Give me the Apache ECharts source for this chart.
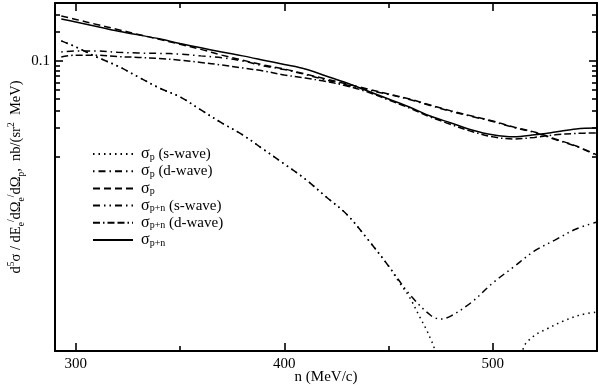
<!DOCTYPE html>
<html><head><meta charset="utf-8">
<script src="https://cdn.jsdelivr.net/npm/echarts@6/dist/echarts.min.js"></script>
<style>html,body{margin:0;padding:0;background:#fff}#c{width:599px;height:388px}</style>
</head><body><div id="c"></div>
<script>
// ---- data (momentum n in MeV/c, cross sections in nb/(sr^2 MeV)) ----
const momentum = [293,300,310,320,330,340,350,360,370,380,390,400,410,420,430,440,450,460,470,480,490,500,510,520,530,540,550];
const sigmaPN  = [0.274,0.255,0.229,0.205,0.187,0.170,0.152,0.137,0.124,0.113,0.102,0.0919,0.0825,0.0698,0.0590,0.0487,0.0402,0.0332,0.0267,0.0226,0.0191,0.0170,0.0162,0.0170,0.0182,0.0196,0.0200];
const sigmaP   = [0.294,0.271,0.240,0.213,0.189,0.168,0.149,0.132,0.115,0.102,0.0908,0.0825,0.0732,0.0649,0.0576,0.0511,0.0453,0.0402,0.0348,0.0302,0.0267,0.0237,0.0205,0.0182,0.0154,0.0130,0.0105];
const sigmaPd  = [0.124,0.127,0.127,0.123,0.121,0.120,0.118,0.113,0.108,0.100,0.0887,0.0815,0.0723,0.0634,0.0562,0.0499,0.0448,0.0397,0.0344,0.0298,0.0264,0.0234,0.0203,0.0180,0.0152,0.0129,0.0104];
const sigmaPNd = [0.110,0.115,0.115,0.111,0.109,0.106,0.102,0.0965,0.0908,0.0846,0.0787,0.0715,0.0665,0.0612,0.0549,0.0475,0.0392,0.0324,0.0261,0.0218,0.0184,0.0162,0.0154,0.0160,0.0170,0.0176,0.0178];

const momentumPNs = [293,300,310,320,330,340,350,360,370,380,390,400,410,420,430,440,450,460,470,475,480,490,500,510,520,530,540,550];
const sigmaPNs    = [0.162,0.140,0.110,0.0887,0.0681,0.0523,0.0422,0.0309,0.0226,0.0170,0.0120,0.00845,0.00590,0.00385,0.00252,0.00139,0.000732,0.000374,0.000226,0.000205,0.000221,0.000309,0.000487,0.000715,0.00105,0.00137,0.00178,0.00210];

const momentumPs = [293,300,310,320,330,340,350,360,370,380,390,400,410,420,430,440,450,455,460,465,468,470,472,474,513,514.5,519,526,534,542,550];
const sigmaPs    = [0.162,0.140,0.110,0.0887,0.0681,0.0523,0.0422,0.0309,0.0226,0.0170,0.0120,0.00845,0.00590,0.00385,0.00252,0.00139,0.000732,0.000499,0.000348,0.000215,0.000162,0.000130,0.0000976,0.000001,0.000001,0.0000976,0.000133,0.000162,0.000196,0.000226,0.000243];

const xLabels = [300,400,500];
const xMajorTicks = [300,400,500];
const xMinorTicks = [350,450];
const yLabels = [0.1];
const yMajorTicks = [0.1];
const yMinorTicks = [0.3,0.2,0.09,0.08,0.07,0.06,0.05,0.04,0.03,0.02,0.01];

const legendNames = ['sp_s','sp_d','sp','spn_s','spn_d','spn'];
const legendText = {
  sp_s:  '{g|σ}{sub|p} {t|(s-wave)}',
  sp_d:  '{g|σ}{sub|p} {t|(d-wave)}',
  sp:    '{g|σ}{sub|p}',
  spn_s: '{g|σ}{sub|p+n} {t|(s-wave)}',
  spn_d: '{g|σ}{sub|p+n} {t|(d-wave)}',
  spn:   '{g|σ}{sub|p+n}'
};

// ---- axis extents ----
const xMin = 290, xMax = 550;
const yMin = 9.53e-5, yMax = 0.4016;
const FONT = 'Liberation Serif, Times New Roman, serif';

function pairs(xs, ys) { return xs.map((x, i) => [x, ys[i]]); }

function lineSeries(name, xs, ys, dash) {
  return {
    name, type: 'line', data: pairs(xs, ys), symbol: 'none', showSymbol: false, smooth: 0.35,
    clip: true, z: 2,
    lineStyle: { color: '#000', width: 1.5, type: dash, cap: 'butt' },
    itemStyle: { color: '#000' }
  };
}
const tickLine = { color: '#000', width: 1.6, type: [40, 0], opacity: 1 };
function xAx(pos, ticks, len, showLine) {
  return {
    type: 'value', min: xMin, max: xMax, position: pos, z: 10,
    axisLine: { show: showLine, lineStyle: { color: '#000', width: 2 } }, splitLine: { show: false },
    axisTick: { show: true, inside: true, length: len, customValues: ticks, lineStyle: tickLine },
    axisLabel: { show: false }
  };
}
function yAx(pos, ticks, len, showLine) {
  return {
    type: 'log', logBase: 10, min: yMin, max: yMax, position: pos, z: 10,
    axisLine: { show: showLine, lineStyle: { color: '#000', width: 2 } }, splitLine: { show: false }, minorTick: { show: false },
    axisTick: { show: true, inside: true, length: len, customValues: ticks, lineStyle: tickLine },
    axisLabel: { show: false }
  };
}

const chart = echarts.init(document.getElementById('c'), null, { renderer: 'canvas' });
chart.setOption({
  animation: false,
  grid: { left: 55, right: 2, top: 3, bottom: 37, outerBoundsMode: 'none', containLabel: false },
  xAxis: [
    Object.assign(xAx('bottom', xMajorTicks, 8, true), {
      axisLabel: { customValues: xLabels, color: '#000', fontFamily: FONT, fontSize: 15, margin: 6 },
      name: 'n (MeV/c)', nameLocation: 'middle', nameGap: 19, nameMoveOverlap: false,
      nameTextStyle: { color: '#000', fontFamily: FONT, fontSize: 15 } }),
    xAx('bottom', xMinorTicks, 5, false),
    xAx('top', xMajorTicks, 8, true),
    xAx('top', xMinorTicks, 5, false)
  ],
  yAxis: [
    Object.assign(yAx('left', yMajorTicks, 8, true), {
      axisLabel: { color: '#000', fontFamily: FONT, fontSize: 15, margin: 5,
        formatter: v => yLabels.some(l => Math.abs(v - l) < 1e-9) ? String(v) : '' },
      name: 'd{sup|5}σ / dE{sub|e}{sup|/}dΩ{sub|e}{sup|/}dΩ{sub|p},  nb/(sr{sup|2}  MeV)',
      nameLocation: 'middle', nameGap: 29, nameRotate: 90, nameMoveOverlap: false,
      nameTextStyle: { color: '#000', fontFamily: FONT, fontSize: 14.5, lineHeight: 20,
        rich: {
          sub: { fontFamily: FONT, fontSize: 9.5, lineHeight: 9, verticalAlign: 'bottom', color: '#000' },
          sup: { fontFamily: FONT, fontSize: 9.5, lineHeight: 9, verticalAlign: 'top', color: '#000' }
        } } }),
    yAx('left', yMinorTicks, 5, false),
    yAx('right', yMajorTicks, 8, true),
    yAx('right', yMinorTicks, 5, false)
  ],
  legend: {
    data: legendNames, orient: 'vertical', left: 87, top: 141, itemWidth: 40, itemHeight: 16, itemGap: 1.2,
    selectedMode: false,
    itemStyle: { opacity: 0 },
    formatter: n => legendText[n],
    textStyle: { color: '#000', fontFamily: FONT, fontSize: 15,
      rich: {
        g: { fontFamily: FONT, fontSize: 16, lineHeight: 16, color: '#000', padding: [0, 0, 0, 3] },
        sub: { fontFamily: FONT, fontSize: 10, lineHeight: 10, verticalAlign: 'bottom', color: '#000' },
        t: { fontFamily: FONT, fontSize: 15, lineHeight: 16, color: '#000' }
      } }
  },
  series: [
    lineSeries('sp_s', momentumPs, sigmaPs, [1.5, 4]),
    lineSeries('spn_s', momentumPNs, sigmaPNs, [7, 4, 1.5, 4, 1.5, 4]),
    lineSeries('sp_d', momentum, sigmaPd, [1.5, 4, 7, 4]),
    lineSeries('spn_d', momentum, sigmaPNd, [7, 3, 1.5, 3, 7, 3]),
    lineSeries('sp', momentum, sigmaP, [7, 4]),
    lineSeries('spn', momentum, sigmaPN, 'solid')
  ]
});
</script>
</body></html>
